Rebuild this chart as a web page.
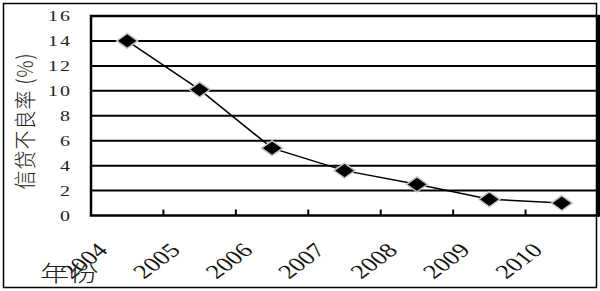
<!DOCTYPE html>
<html>
<head>
<meta charset="utf-8">
<script src="https://cdn.jsdelivr.net/npm/d3@7"></script>
<style>
  body { margin: 0; background: #fff; }
  svg { display: block; }
</style>
</head>
<body>
<div id="chart"></div>
<script>
const years = ["2004", "2005", "2006", "2007", "2008", "2009", "2010"];
const rates = [14.0, 10.1, 5.4, 3.6, 2.5, 1.3, 1.0];
const yTicks = [0, 2, 4, 6, 8, 10, 12, 14, 16];

const width = 600;
const height = 291;
// the source picture is stretched sideways, so text gets a horizontal scale
const stretch = 1.33;

let dimensions = {
  width: width,
  height: height,
  margin: { top: 16, right: 2, bottom: 75.5, left: 91 },
};
dimensions.boundedWidth =
  dimensions.width - dimensions.margin.left - dimensions.margin.right;
dimensions.boundedHeight =
  dimensions.height - dimensions.margin.top - dimensions.margin.bottom;

const svg = d3
  .select("#chart")
  .append("svg")
  .attr("width", width)
  .attr("height", height);

// outer frame
svg
  .append("rect")
  .attr("x", 3.5)
  .attr("y", 3.5)
  .attr("width", 593)
  .attr("height", 284)
  .attr("fill", "none")
  .attr("stroke", "#000")
  .attr("stroke-width", 1.5);

const bounds = svg
  .append("g")
  .attr(
    "transform",
    `translate(${dimensions.margin.left}, ${dimensions.margin.top})`
  );

// scales
const xScale = d3
  .scaleBand()
  .domain(years)
  .range([0, dimensions.boundedWidth])
  .padding(0);

const yScale = d3
  .scaleLinear()
  .domain([0, 16])
  .range([dimensions.boundedHeight, 0]);

// gridlines
bounds
  .append("g")
  .selectAll("line")
  .data(yTicks.filter((d) => d > 0 && d < 16))
  .join("line")
  .attr("x1", 0)
  .attr("x2", dimensions.boundedWidth)
  .attr("y1", (d) => yScale(d))
  .attr("y2", (d) => yScale(d))
  .attr("stroke", "#000")
  .attr("stroke-width", 2);

// plot frame
bounds
  .append("rect")
  .attr("width", dimensions.boundedWidth)
  .attr("height", dimensions.boundedHeight)
  .attr("fill", "none")
  .attr("stroke", "#000")
  .attr("stroke-width", 2.5);

// thick right edge
bounds
  .append("line")
  .attr("x1", dimensions.boundedWidth)
  .attr("x2", dimensions.boundedWidth)
  .attr("y1", -1)
  .attr("y2", dimensions.boundedHeight + 1)
  .attr("stroke", "#000")
  .attr("stroke-width", 4);

// category ticks between years, pointing inward
bounds
  .append("g")
  .selectAll("line")
  .data(years.slice(1))
  .join("line")
  .attr("x1", (d) => xScale(d))
  .attr("x2", (d) => xScale(d))
  .attr("y1", dimensions.boundedHeight)
  .attr("y2", dimensions.boundedHeight - 6)
  .attr("stroke", "#000")
  .attr("stroke-width", 2);

// y tick labels
bounds
  .append("g")
  .selectAll("text")
  .data(yTicks)
  .join("text")
  .attr("transform", (d) => `translate(-19, ${yScale(d)}) scale(${stretch},1)`)
  .attr("text-anchor", "end")
  .attr("dominant-baseline", "central")
  .style("font-family", "'Liberation Serif', serif")
  .style("font-size", "15px")
  .style("letter-spacing", "1.5px")
  .attr("fill", "#222")
  .text((d) => d);

// x tick labels, rotated
const xCenter = (d) => xScale(d) + xScale.bandwidth() / 2;
bounds
  .append("g")
  .selectAll("text")
  .data(years)
  .join("text")
  .attr(
    "transform",
    (d) =>
      `translate(${xCenter(d) - 18}, ${dimensions.boundedHeight + 36}) scale(${stretch},1) rotate(-45)`
  )
  .attr("text-anchor", "end")
  .style("font-family", "'Liberation Serif', serif")
  .style("font-size", "20px")
  .attr("fill", "#111")
  .text((d) => d);

// line
const lineGenerator = d3
  .line()
  .x((d, i) => xCenter(years[i]))
  .y((d) => yScale(d));

bounds
  .append("path")
  .datum(rates)
  .attr("d", lineGenerator)
  .attr("fill", "none")
  .attr("stroke", "#000")
  .attr("stroke-width", 1.5);

// diamond markers
bounds
  .append("g")
  .selectAll("path")
  .data(rates)
  .join("path")
  .attr("transform", (d, i) => `translate(${xCenter(years[i])}, ${yScale(d)})`)
  .attr("d", "M0,-7.5L10.5,0L0,7.5L-10.5,0Z")
  .attr("fill", "#000")
  .attr("stroke", "#c4c4c4")
  .attr("stroke-width", 1.5);

// axis titles
svg
  .append("text")
  .attr("transform", `translate(33, 121) scale(1.15,1) rotate(-90)`)
  .attr("text-anchor", "middle")
  .style("font-family", "'Noto Sans CJK SC', sans-serif")
  .style("font-size", "19px")
  .style("font-weight", "300")
  .style("letter-spacing", "1px")
  .attr("fill", "#222")
  .text("信贷不良率 (%)");

svg
  .append("text")
  .attr("transform", `translate(40, 281) scale(${stretch},1)`)
  .style("font-family", "'Noto Sans CJK SC', sans-serif")
  .style("font-size", "22px")
  .style("font-weight", "300")
  .attr("fill", "#222")
  .text("年份");
</script>
</body>
</html>
